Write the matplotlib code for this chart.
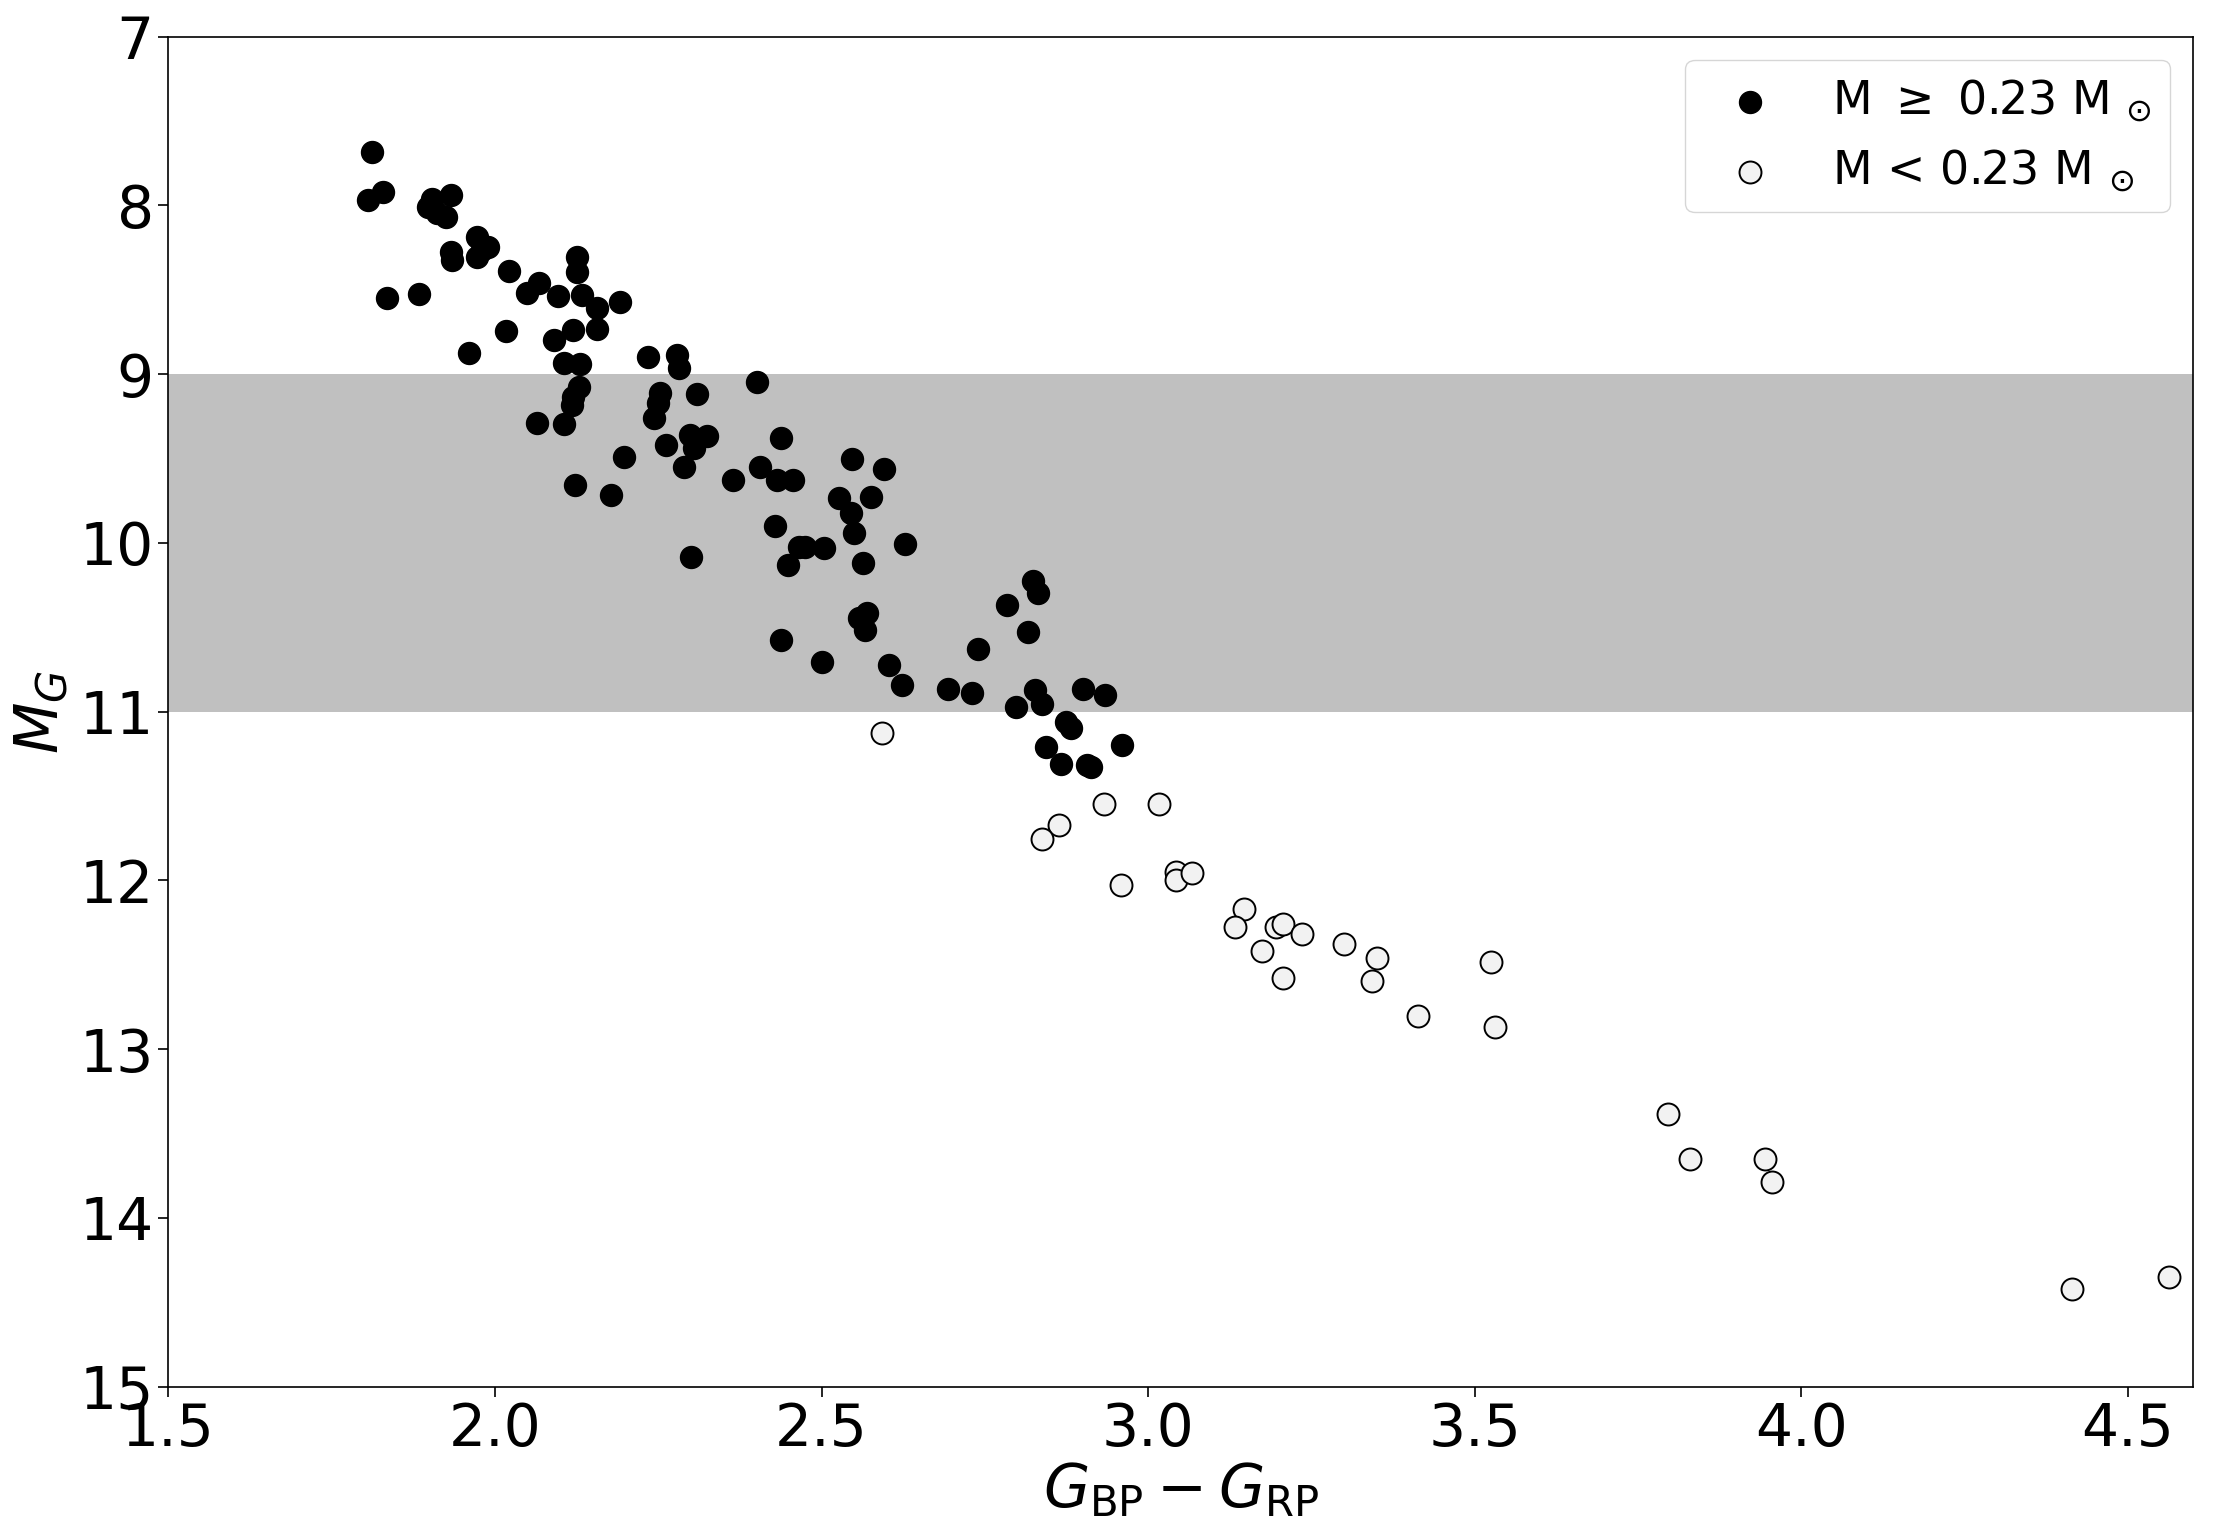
import matplotlib.pyplot as plt
import numpy as np

# colour index and absolute G magnitude, stars with M >= 0.23 Msun
bp_rp_high = [1.812, 1.806, 1.828, 1.835, 1.884, 1.904, 1.933, 1.898, 1.911, 1.925,
              1.932, 1.934, 1.973, 1.990, 1.972, 1.980, 1.960, 2.021, 2.049, 2.067,
              2.097, 2.126, 2.126, 2.133, 2.156, 2.191, 2.017, 2.090, 2.119, 2.156,
              2.234, 2.279, 2.282, 2.105, 2.130, 2.128, 2.120, 2.118, 2.065, 2.105,
              2.253, 2.250, 2.244, 2.309, 2.262, 2.298, 2.325, 2.304, 2.289, 2.197,
              2.123, 2.177, 2.300, 2.401, 2.438, 2.406, 2.432, 2.457, 2.365, 2.547,
              2.596, 2.526, 2.575, 2.545, 2.550, 2.429, 2.465, 2.475, 2.448, 2.504,
              2.564, 2.627, 2.570, 2.557, 2.567, 2.438, 2.501, 2.604, 2.623, 2.693,
              2.730, 2.740, 2.784, 2.823, 2.832, 2.816, 2.827, 2.838, 2.798, 2.900,
              2.934, 2.874, 2.882, 2.960, 2.844, 2.867, 2.906, 2.913]
mg_high = [7.685, 7.968, 7.919, 8.551, 8.525, 7.964, 7.938, 8.008, 8.047, 8.067,
           8.274, 8.324, 8.186, 8.245, 8.304, 8.262, 8.877, 8.387, 8.521, 8.462,
           8.537, 8.304, 8.393, 8.531, 8.610, 8.571, 8.745, 8.798, 8.739, 8.733,
           8.897, 8.887, 8.966, 8.936, 8.940, 9.075, 9.134, 9.183, 9.292, 9.296,
           9.114, 9.173, 9.262, 9.118, 9.420, 9.361, 9.367, 9.440, 9.549, 9.490,
           9.657, 9.716, 10.082, 9.045, 9.376, 9.549, 9.628, 9.628, 9.628, 9.503,
           9.560, 9.736, 9.726, 9.825, 9.944, 9.897, 10.022, 10.022, 10.132, 10.032,
           10.120, 10.009, 10.413, 10.447, 10.517, 10.576, 10.705, 10.725, 10.843, 10.863,
           10.889, 10.626, 10.369, 10.227, 10.296, 10.527, 10.873, 10.956, 10.972, 10.863,
           10.902, 11.060, 11.096, 11.195, 11.212, 11.313, 11.317, 11.330]

# stars with M < 0.23 Msun
bp_rp_low = [2.593, 2.932, 3.017, 2.863, 2.838, 2.959, 3.042, 3.042, 3.067, 3.147,
             3.133, 3.174, 3.195, 3.207, 3.235, 3.206, 3.300, 3.350, 3.343, 3.413,
             3.525, 3.531, 3.796, 3.830, 3.944, 3.955, 4.414, 4.563]
mg_low = [11.128, 11.547, 11.547, 11.672, 11.756, 12.027, 11.948, 11.997, 11.958, 12.169,
          12.274, 12.418, 12.274, 12.260, 12.316, 12.580, 12.378, 12.458, 12.596, 12.802,
          12.482, 12.870, 13.383, 13.650, 13.650, 13.790, 14.42, 14.35]

band = (9, 11)

fig = plt.figure(figsize=(22.16, 15.39), dpi=100)
ax = fig.add_axes([0.0760, 0.0990, 0.9137, 0.8772])

ax.axhspan(band[0], band[1], color='silver', zorder=0, lw=0)
ax.scatter(bp_rp_high, mg_high, s=250, c='black', zorder=3,
           label=r'M $\geq$ 0.23 M $_{\odot}$')
ax.scatter(bp_rp_low, mg_low, s=250, facecolor='#f2f2f2', edgecolor='black',
           linewidth=1.4, zorder=3, label=r'M < 0.23 M $_{\odot}$')

ax.set_xlim(1.5, 4.6)
ax.set_ylim(15, 7)
ax.set_xticks(np.arange(1.5, 4.51, 0.5))
ax.set_yticks(np.arange(7, 15.1, 1))
ax.tick_params(labelsize=42, length=7, width=1.2)
for sp in ax.spines.values():
    sp.set_linewidth(1.2)

ax.set_xlabel(r'$G_{\rm BP} - G_{\rm RP}$', fontsize=43, labelpad=2)
ax.set_ylabel(r'$M_G$', fontsize=43, labelpad=6)

ax.legend(loc='upper right', fontsize=33, scatterpoints=1)

fig.savefig('out.png', dpi=100)
